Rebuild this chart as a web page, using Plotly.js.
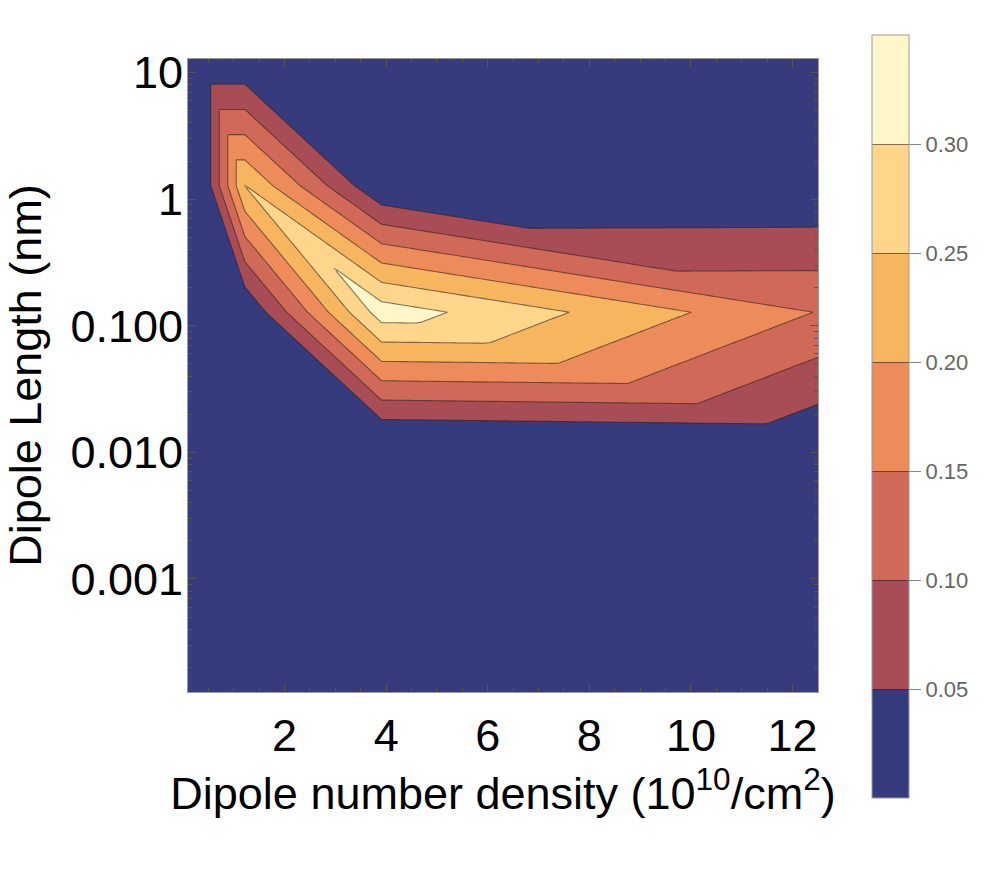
<!DOCTYPE html>
<html>
<head>
<meta charset="utf-8">
<script src="https://cdn.plot.ly/plotly-3.0.1.min.js"></script>
<style>html,body{margin:0;padding:0;background:#fff;}</style>
</head>
<body>
<div id="chart" style="width:997px;height:873px;"></div>
<script>
// ---- data (grid nodes of the original contour data) ----
const densityNodes = [0.119, 0.381, 1.22, 3.91, 12.5];                 // 10^10 / cm^2
const lengthNodes = [12.8, 1.28, 0.128, 0.0128, 0.00128, 0.000128];    // nm
// value at every node: one row per entry of lengthNodes, one column per entry of densityNodes
const zRow0 = [0, 0, 0, 0, 0];
const zRow1 = [0, 0, 0.251, 0, 0.002];
const zRow2 = [0, 0, 0, 0.327, 0.148];
const zRow3 = [0, 0, 0, 0, 0.013];
const zRow4 = [0, 0, 0, 0, 0];
const zRow5 = [0, 0, 0, 0, 0];
const contourLevels = [0.05, 0.10, 0.15, 0.20, 0.25, 0.30];
const bandColors = ['#353b7c', '#a84d56', '#d06957', '#ee8b5b', '#f7b560', '#fdd68b', '#fff7c9'];
const xTickVals = [2, 4, 6, 8, 10, 12];
const yTickVals = [10, 1, 0.1, 0.01, 0.001];
const yTickText = ['10', '1', '0.100', '0.010', '0.001'];

// ---- display mesh: the original plot draws the node data as linear triangles
// (each cell split along its top-left / bottom-right diagonal); sample that surface
// so Plotly's contour tracer follows the same piecewise-linear shapes ----
const zGrid = [zRow0, zRow1, zRow2, zRow3, zRow4, zRow5];
const logNodes = lengthNodes.map(v => Math.log10(v));
const SUB = 64;
function subdivide(nodes) {
  const out = [];
  for (let i = 0; i < nodes.length - 1; i++) {
    for (let k = 0; k < SUB; k++) out.push({cell: i, f: k / SUB, v: nodes[i] + (nodes[i + 1] - nodes[i]) * k / SUB});
  }
  out.push({cell: nodes.length - 2, f: 1, v: nodes[nodes.length - 1]});
  return out;
}
const xs = subdivide(densityNodes);
const ys = subdivide(logNodes);
function surface(c, r, u, v) {
  const TL = zGrid[r][c], TR = zGrid[r][c + 1], BL = zGrid[r + 1][c], BR = zGrid[r + 1][c + 1];
  if (u >= v) return TL + u * (TR - TL) + v * (BR - TR);
  return TL + v * (BL - TL) + u * (BR - BL);
}
const zMesh = ys.map(yy => xs.map(xx => surface(xx.cell, yy.cell, xx.f, yy.f)));

const minorY = [];
for (let d = -4; d <= 1; d++) for (let k = 2; k <= 9; k++) minorY.push(Math.log10(k * Math.pow(10, d)));

const plotL = 188, plotR = 818.5, plotT = 58.5, plotB = 692;
const W = 997, H = 873;
const pw = plotR - plotL, ph = plotB - plotT;
const FONT = 'Liberation Sans, Arial, sans-serif';

const trace = {
  type: 'contour',
  x: xs.map(p => p.v),
  y: ys.map(p => p.v),
  z: zMesh,
  zmin: 0, zmax: 0.35, zauto: false,
  autocontour: false,
  contours: {start: contourLevels[0], end: contourLevels[contourLevels.length - 1], size: 0.05, coloring: 'fill', showlines: true},
  line: {color: 'rgba(45,30,30,0.58)', width: 1.1, smoothing: 0},
  colorscale: bandColors.map((c, i) => [i / (bandColors.length - 1), c]),
  hoverinfo: 'skip',
  colorbar: {
    thickness: 37, thicknessmode: 'pixels',
    len: 763, lenmode: 'pixels',
    x: (873 - plotL) / pw, xanchor: 'left', xref: 'paper', xpad: 0,
    y: (plotB - 416.5) / ph, yanchor: 'middle', yref: 'paper', ypad: 0,
    outlinewidth: 1, outlinecolor: '#9a9a9a',
    tickmode: 'array', tickvals: contourLevels, ticktext: contourLevels.map(v => v.toFixed(2)),
    tickprefix: '\u00a0\u00a0',
    ticks: 'outside', ticklen: 12, tickcolor: '#888', tickwidth: 1,
    tickfont: {size: 22, color: '#666', family: FONT}
  }
};

const layout = {
  width: W, height: H,
  margin: {l: plotL, r: W - plotR, t: plotT, b: H - plotB, pad: 0},
  paper_bgcolor: '#ffffff',
  plot_bgcolor: bandColors[0],
  font: {family: FONT, color: '#000'},
  showlegend: false,
  xaxis: {
    range: [0.1, 12.5],
    tickmode: 'array', tickvals: xTickVals, ticktext: xTickVals.map(String),
    ticks: 'inside', ticklen: 8, tickwidth: 1, tickcolor: '#555',
    minor: {ticks: 'inside', ticklen: 4, tickwidth: 1, tickcolor: '#555', dtick: 0.5, tick0: 0},
    showline: true, linecolor: '#999', linewidth: 1, mirror: 'ticks',
    showgrid: false, zeroline: false,
    tickfont: {size: 45},
    ticklabelstandoff: 4,
    title: {text: 'Dipole number density (10<sup>10</sup>/cm<sup>2</sup>)', font: {size: 45}, standoff: 16}
  },
  yaxis: {
    range: [logNodes[logNodes.length - 1], logNodes[0]],
    tickmode: 'array', tickvals: yTickVals.map(v => Math.log10(v)), ticktext: yTickText,
    ticks: 'inside', ticklen: 8, tickwidth: 1, tickcolor: '#555',
    minor: {ticks: 'inside', ticklen: 4, tickwidth: 1, tickcolor: '#555', tickvals: minorY},
    showline: true, linecolor: '#999', linewidth: 1, mirror: 'ticks',
    showgrid: false, zeroline: false,
    tickfont: {size: 45},
    ticklabelstandoff: -5,
    title: {text: 'Dipole Length (nm)', font: {size: 45}, standoff: 20}
  }
};

Plotly.newPlot('chart', [trace], layout, {displayModeBar: false, staticPlot: true});
</script>
</body>
</html>
